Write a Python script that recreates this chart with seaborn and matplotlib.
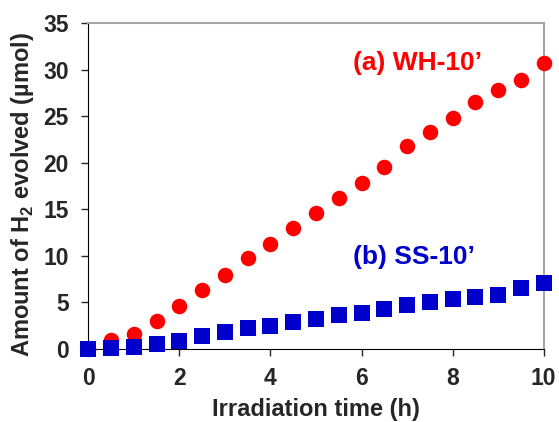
import pandas as pd
import numpy as np
import matplotlib
matplotlib.use("Agg")
import matplotlib.pyplot as plt
import seaborn as sns

# Data
time_h = [0, 0.5, 1, 1.5, 2, 2.5, 3, 3.5, 4, 4.5, 5, 5.5, 6, 6.5, 7, 7.5, 8, 8.5, 9, 9.5, 10]
wh10 = [0.0, 0.93, 1.58, 2.97, 4.59, 6.27, 7.96, 9.71, 11.29, 12.94, 14.55,
        16.16, 17.78, 19.53, 21.76, 23.30, 24.80, 26.49, 27.81, 28.92, 30.75]
ss10 = [0.0, 0.02, 0.2, 0.5, 0.82, 1.36, 1.76, 2.19, 2.40, 2.87, 3.19,
        3.62, 3.84, 4.23, 4.70, 4.98, 5.30, 5.56, 5.77, 6.56, 7.03]
series_names = ["(a) WH-10\u2019", "(b) SS-10\u2019"]
x_ticks = [0, 2, 4, 6, 8, 10]
y_ticks = [0, 5, 10, 15, 20, 25, 30, 35]

df = pd.DataFrame({
    "time": time_h * 2,
    "h2": wh10 + ss10,
    "sample": [series_names[0]] * len(time_h) + [series_names[1]] * len(time_h),
})

sns.set_style("ticks")
plt.rcParams['font.family'] = ['Liberation Sans', 'DejaVu Sans']
plt.rcParams['mathtext.fontset'] = 'custom'
plt.rcParams['mathtext.rm'] = 'Liberation Sans:bold'
plt.rcParams['mathtext.bf'] = 'Liberation Sans:bold'

fig = plt.figure(figsize=(5.59, 4.22), dpi=100)
ax = fig.add_axes([0.158, 0.174, 0.8146, 0.771])

red = "#FF0000"
blue = "#0000CC"

sns.scatterplot(data=df[df["sample"] == series_names[0]], x="time", y="h2",
                color=red, marker="o", s=125, linewidth=0, ax=ax, clip_on=False, zorder=3)
sns.scatterplot(data=df[df["sample"] == series_names[1]], x="time", y="h2",
                color=blue, marker="s", s=125, linewidth=0, ax=ax, clip_on=False, zorder=4)

ax.set_xlim(0, 10)
ax.set_ylim(0, 35)
ax.set_xticks(x_ticks)
ax.set_yticks(y_ticks)
ax.tick_params(axis='both', direction='out', length=5, width=1, labelsize=16.5)
ax.tick_params(axis='y', pad=9)
ax.tick_params(axis='x', pad=8)
for lab in ax.get_xticklabels() + ax.get_yticklabels():
    lab.set_fontweight('bold')

ax.spines['left'].set_color('black')
ax.spines['bottom'].set_color('black')
ax.spines['top'].set_color('#A6A6A6')
ax.spines['right'].set_color('#A6A6A6')
ax.spines['top'].set_linewidth(1.5)
ax.spines['right'].set_linewidth(1.5)

ax.set_xlabel("Irradiation time (h)", fontsize=17, fontweight='bold')
ax.set_ylabel("Amount of H$_2$ evolved (\u00b5mol)", fontsize=17, fontweight='bold')
ax.xaxis.set_label_coords(0.5, -0.152)
ax.yaxis.set_label_coords(-0.115, 0.473)

ax.text(5.82, 30.7, series_names[0], color=red, fontsize=19, fontweight='bold', va='center', ha='left')
ax.text(5.82, 9.86, series_names[1], color=blue, fontsize=19, fontweight='bold', va='center', ha='left')

fig.savefig("out.png", dpi=100)
